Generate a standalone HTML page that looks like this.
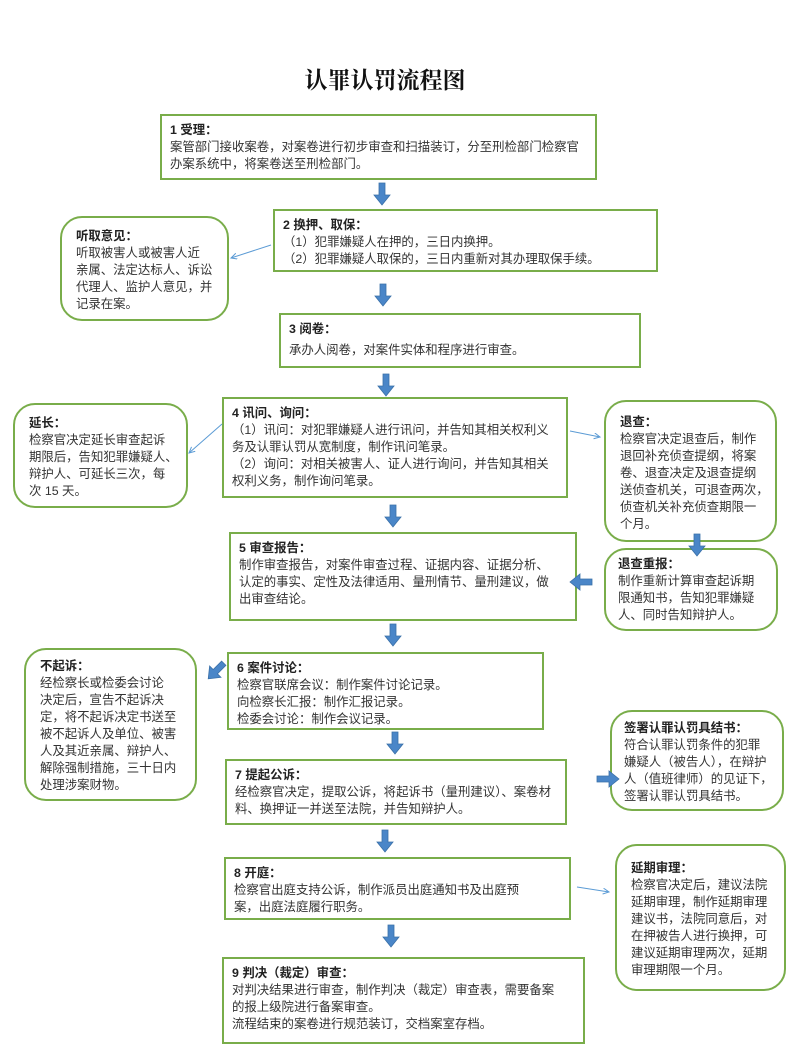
<!DOCTYPE html>
<html><head><meta charset="utf-8"><style>
body{margin:0;width:800px;height:1062px;background:#fff;position:relative;overflow:hidden;font-family:"Liberation Sans","Noto Sans CJK SC",sans-serif;color:#333}
.b{position:absolute;border:2px solid #79ad4a;box-sizing:border-box;font-size:12.4px;line-height:17px;padding:6px 8px;white-space:nowrap;background:#fff}
.r{border-radius:22px}
.b b{font-weight:bold;color:#222}
svg{position:absolute;left:0;top:0}
h1{position:absolute;left:0;width:770px;top:62px;margin:0;text-align:center;font-size:23px;font-weight:bold;font-family:"Liberation Serif","Noto Serif CJK SC",serif;color:#111}
</style></head><body>
<h1>认罪认罚流程图</h1>
<div class="b" style="left:160px;top:114px;width:437px;height:66px"><b>1 受理：</b><br>案管部门接收案卷，对案卷进行初步审查和扫描装订，分至刑检部门检察官<br>办案系统中，将案卷送至刑检部门。</div>
<div class="b" style="left:273px;top:209px;width:385px;height:63px"><b>2 换押、取保：</b><br>（1）犯罪嫌疑人在押的，三日内换押。<br>（2）犯罪嫌疑人取保的，三日内重新对其办理取保手续。</div>
<div class="b r" style="left:60px;top:216px;width:169px;height:105px;padding:10px 14px"><b>听取意见：</b><br>听取被害人或被害人近<br>亲属、法定达标人、诉讼<br>代理人、监护人意见，并<br>记录在案。</div>
<div class="b" style="left:279px;top:313px;width:362px;height:55px"><b>3 阅卷：</b><br><span style="line-height:24px">承办人阅卷，对案件实体和程序进行审查。</span></div>
<div class="b" style="left:222px;top:397px;width:346px;height:101px"><b>4 讯问、询问：</b><br>（1）讯问：对犯罪嫌疑人进行讯问，并告知其相关权利义<br>务及认罪认罚从宽制度，制作讯问笔录。<br>（2）询问：对相关被害人、证人进行询问，并告知其相关<br>权利义务，制作询问笔录。</div>
<div class="b r" style="left:13px;top:403px;width:175px;height:105px;padding:10px 14px"><b>延长：</b><br>检察官决定延长审查起诉<br>期限后，告知犯罪嫌疑人、<br>辩护人、可延长三次，每<br>次 15 天。</div>
<div class="b r" style="left:604px;top:400px;width:173px;height:142px;padding:12px 14px 0 14px"><b>退查：</b><br>检察官决定退查后，制作<br>退回补充侦查提纲，将案<br>卷、退查决定及退查提纲<br>送侦查机关，可退查两次，<br>侦查机关补充侦查期限一<br>个月。</div>
<div class="b" style="left:229px;top:532px;width:348px;height:89px"><b>5 审查报告：</b><br>制作审查报告，对案件审查过程、证据内容、证据分析、<br>认定的事实、定性及法律适用、量刑情节、量刑建议，做<br>出审查结论。</div>
<div class="b r" style="left:604px;top:548px;width:174px;height:83px;padding:6px 12px"><b>退查重报：</b><br>制作重新计算审查起诉期<br>限通知书，告知犯罪嫌疑<br>人、同时告知辩护人。</div>
<div class="b" style="left:227px;top:652px;width:317px;height:78px"><b>6 案件讨论：</b><br>检察官联席会议：制作案件讨论记录。<br>向检察长汇报：制作汇报记录。<br>检委会讨论：制作会议记录。</div>
<div class="b r" style="left:24px;top:648px;width:173px;height:153px;padding:8px 14px"><b>不起诉：</b><br>经检察长或检委会讨论<br>决定后，宣告不起诉决<br>定，将不起诉决定书送至<br>被不起诉人及单位、被害<br>人及其近亲属、辩护人、<br>解除强制措施，三十日内<br>处理涉案财物。</div>
<div class="b" style="left:225px;top:759px;width:342px;height:66px"><b>7 提起公诉：</b><br>经检察官决定，提取公诉，将起诉书（量刑建议）、案卷材<br>料、换押证一并送至法院，并告知辩护人。</div>
<div class="b r" style="left:610px;top:710px;width:174px;height:101px;padding:8px 12px"><b>签署认罪认罚具结书：</b><br>符合认罪认罚条件的犯罪<br>嫌疑人（被告人），在辩护<br>人（值班律师）的见证下，<br>签署认罪认罚具结书。</div>
<div class="b" style="left:224px;top:857px;width:347px;height:63px"><b>8 开庭：</b><br>检察官出庭支持公诉，制作派员出庭通知书及出庭预<br>案，出庭法庭履行职务。</div>
<div class="b r" style="left:615px;top:844px;width:171px;height:147px;padding:14px 14px"><b>延期审理：</b><br>检察官决定后，建议法院<br>延期审理，制作延期审理<br>建议书，法院同意后，对<br>在押被告人进行换押，可<br>建议延期审理两次，延期<br>审理期限一个月。</div>
<div class="b" style="left:222px;top:957px;width:363px;height:87px"><b>9 判决（裁定）审查：</b><br>对判决结果进行审查，制作判决（裁定）审查表，需要备案<br>的报上级院进行备案审查。<br>流程结束的案卷进行规范装订，交档案室存档。</div>
<svg width="800" height="1062">
<defs>
<g id="da"><path d="M-3,0 h6 v12 h5 l-8,10 l-8,-10 h5 z" fill="#4a86c8" stroke="#3a70a8" stroke-width="0.8"/></g>
<marker id="m" markerWidth="8" markerHeight="8" refX="6" refY="3" orient="auto"><path d="M0,0 L6,3 L0,6" fill="none" stroke="#5b9bd5" stroke-width="1"/></marker>
</defs>
<use href="#da" x="382" y="183"/>
<use href="#da" x="383" y="284"/>
<use href="#da" x="386" y="374"/>
<use href="#da" x="393" y="505"/>
<use href="#da" x="393" y="624"/>
<use href="#da" x="395" y="732"/>
<use href="#da" x="385" y="830"/>
<use href="#da" x="391" y="925"/>
<use href="#da" x="697" y="534"/>
<g transform="translate(581,582) rotate(90)"><use href="#da" x="0" y="-11"/></g>
<g transform="translate(608,779) rotate(-90)"><use href="#da" x="0" y="-11"/></g>
<g transform="translate(216,671) rotate(45)"><use href="#da" x="0" y="-11"/></g>
<line x1="271" y1="245" x2="231" y2="258" stroke="#5b9bd5" stroke-width="1" marker-end="url(#m)"/>
<line x1="222" y1="424" x2="189" y2="453" stroke="#5b9bd5" stroke-width="1" marker-end="url(#m)"/>
<line x1="570" y1="431" x2="600" y2="437" stroke="#5b9bd5" stroke-width="1" marker-end="url(#m)"/>
<line x1="577" y1="887" x2="609" y2="892" stroke="#5b9bd5" stroke-width="1" marker-end="url(#m)"/>
</svg>
</body></html>
